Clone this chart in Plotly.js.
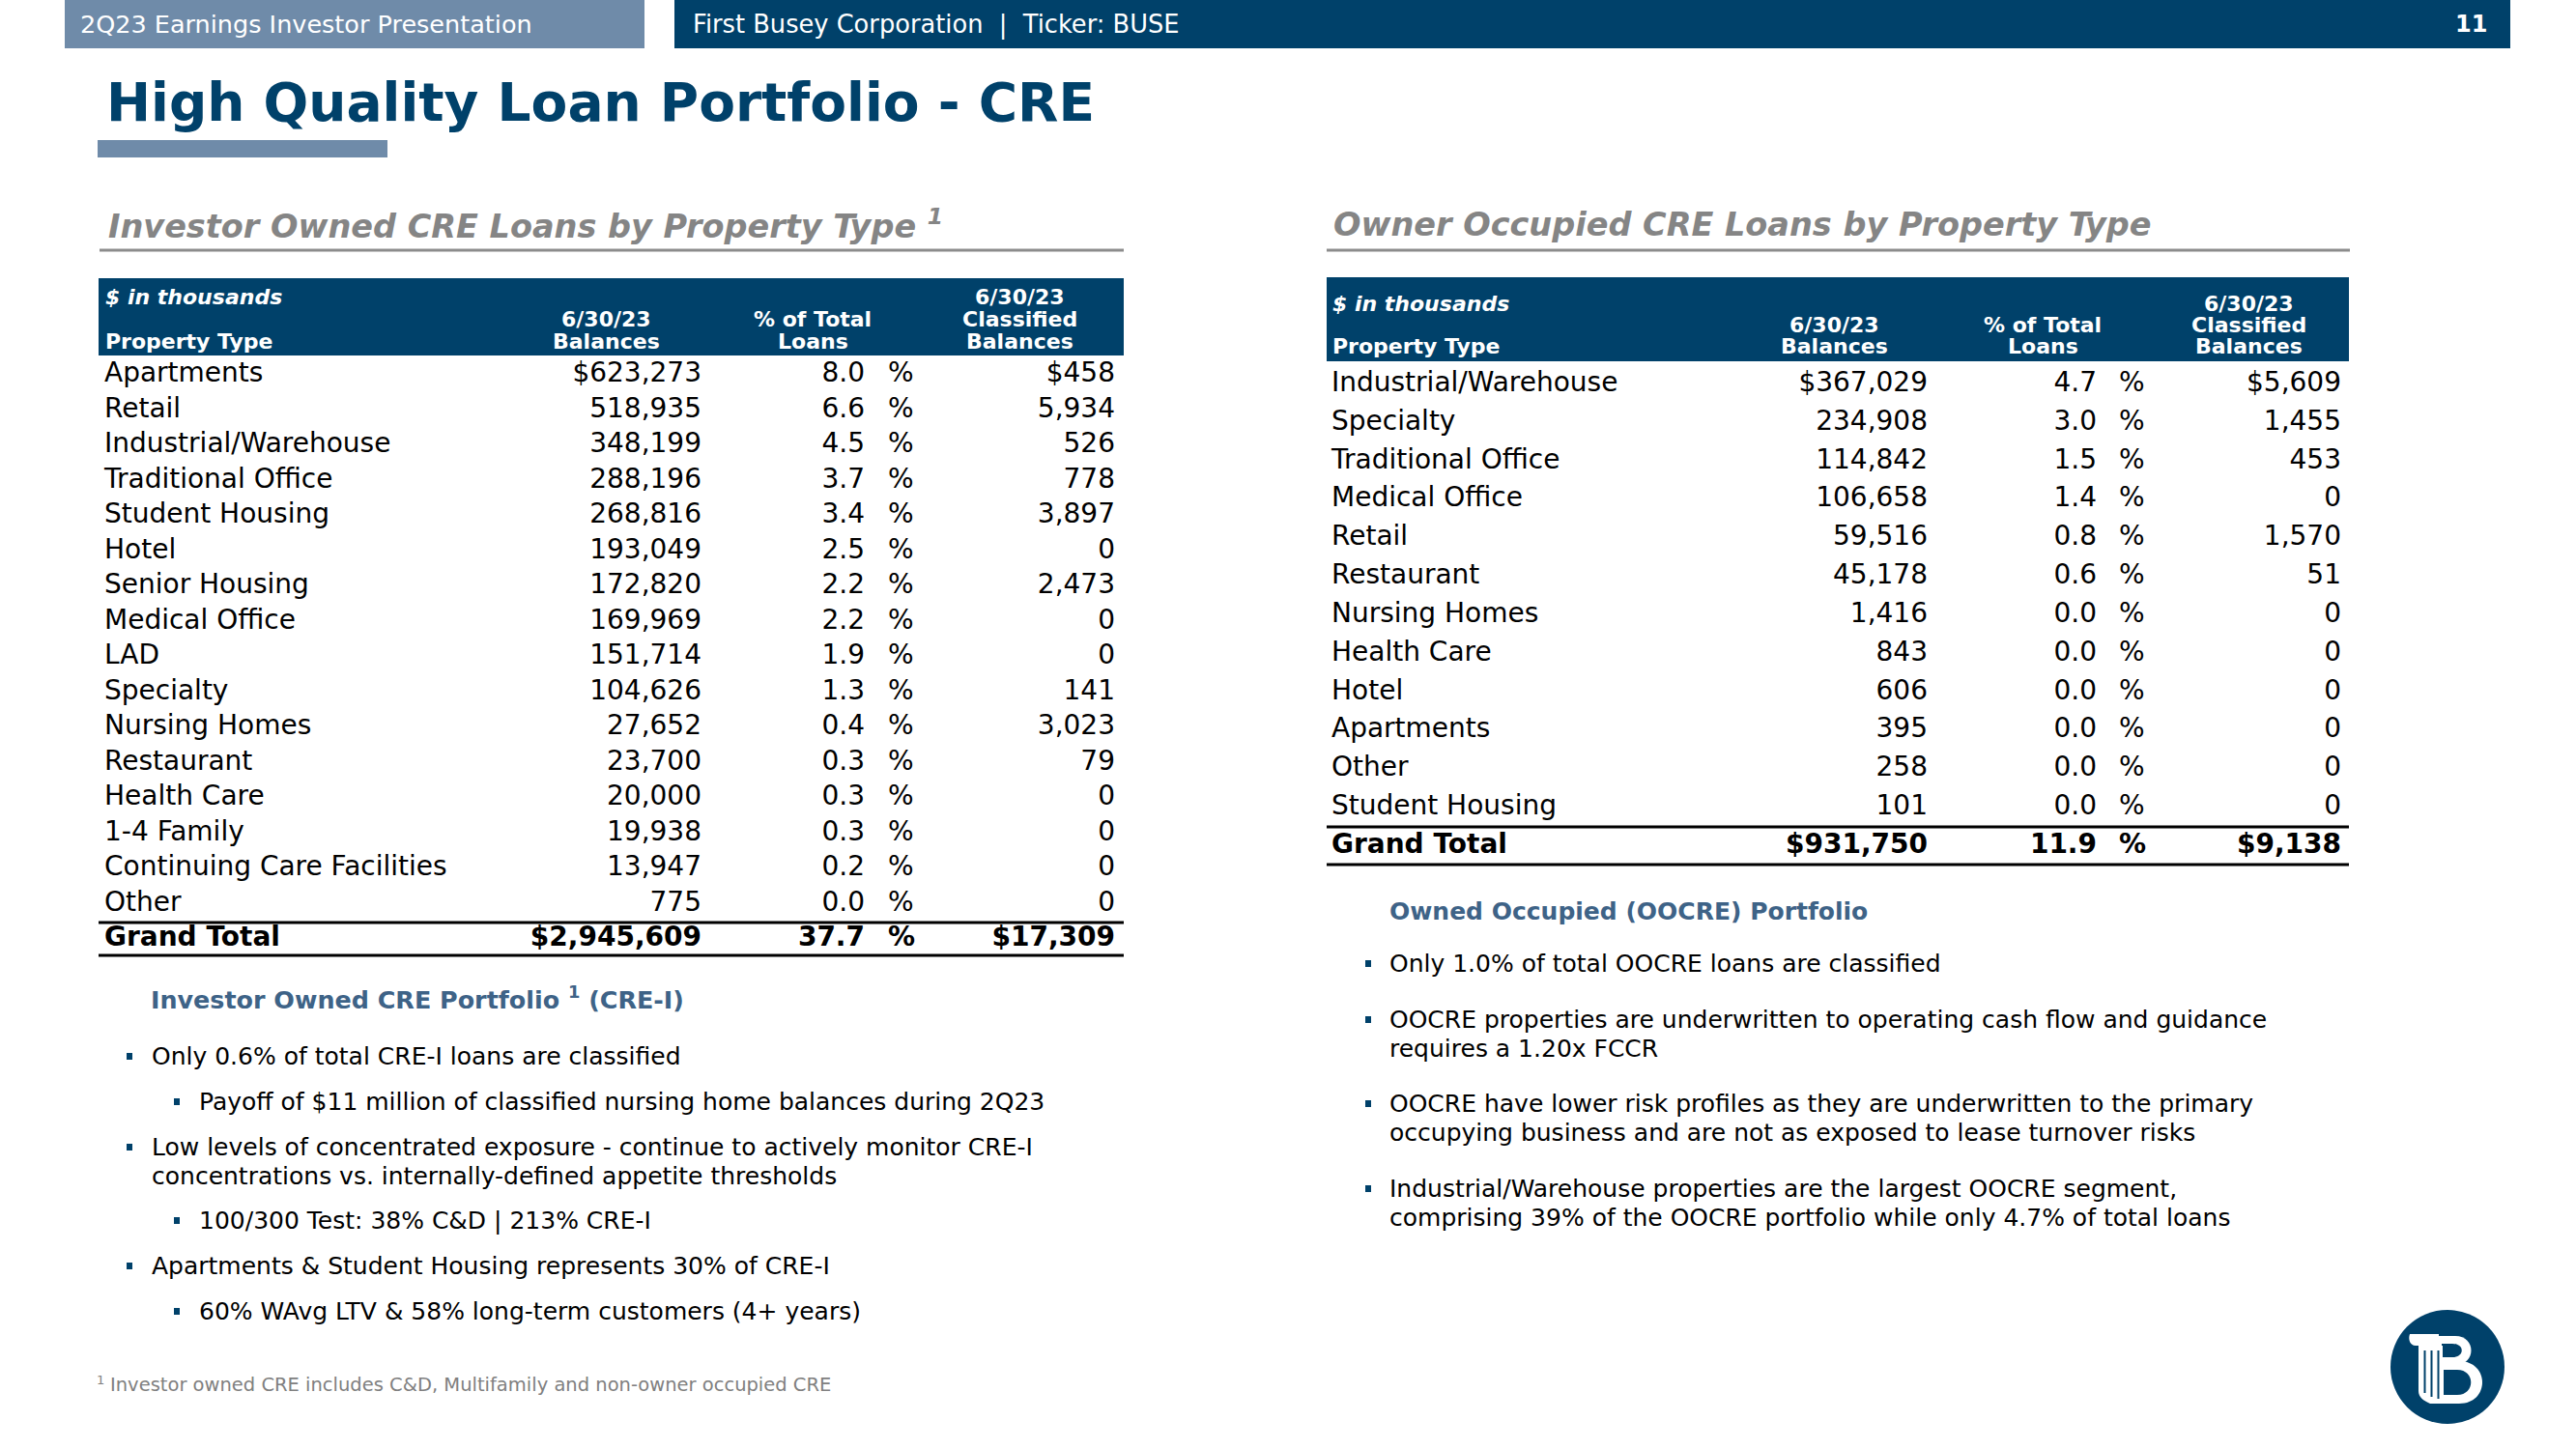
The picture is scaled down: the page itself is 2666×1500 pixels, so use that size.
<!DOCTYPE html>
<html><head><meta charset="utf-8">
<script src="https://cdn.plot.ly/plotly-3.0.1.min.js"></script>
<style>html,body{margin:0;padding:0;background:#fff;}#chart{width:2666px;height:1500px;}</style>
</head><body><div id="chart"></div>
<script>
// ---------- Data ----------
const invTypes = ['Apartments','Retail','Industrial/Warehouse','Traditional Office','Student Housing','Hotel','Senior Housing','Medical Office','LAD','Specialty','Nursing Homes','Restaurant','Health Care','1-4 Family','Continuing Care Facilities','Other'];
const invBalances = [623273,518935,348199,288196,268816,193049,172820,169969,151714,104626,27652,23700,20000,19938,13947,775];
const invPct = [8.0,6.6,4.5,3.7,3.4,2.5,2.2,2.2,1.9,1.3,0.4,0.3,0.3,0.3,0.2,0.0];
const invClassified = [458,5934,526,778,3897,0,2473,0,0,141,3023,79,0,0,0,0];
const invTotalBalance = 2945609, invTotalPct = 37.7, invTotalClassified = 17309;

const ooTypes = ['Industrial/Warehouse','Specialty','Traditional Office','Medical Office','Retail','Restaurant','Nursing Homes','Health Care','Hotel','Apartments','Other','Student Housing'];
const ooBalances = [367029,234908,114842,106658,59516,45178,1416,843,606,395,258,101];
const ooPct = [4.7,3.0,1.5,1.4,0.8,0.6,0.0,0.0,0.0,0.0,0.0,0.0];
const ooClassified = [5609,1455,453,0,1570,51,0,0,0,0,0,0];
const ooTotalBalance = 931750, ooTotalPct = 11.9, ooTotalClassified = 9138;

const totalLabel = 'Grand Total';
const unitLabel = '$ in thousands';
const typeHeader = 'Property Type';
const colHeaders = [['6/30/23','Balances'],['% of Total','Loans'],['6/30/23','Classified','Balances']];

const slideTag = '2Q23 Earnings Investor Presentation';
const companyTag = 'First Busey Corporation&nbsp;&nbsp;|&nbsp;&nbsp;Ticker: BUSE';
const pageNum = '11';
const slideTitle = 'High Quality Loan Portfolio - CRE';
const leftTitle = 'Investor Owned CRE Loans by Property Type <sup>1</sup>';
const rightTitle = 'Owner Occupied CRE Loans by Property Type';
const leftSub = 'Investor Owned CRE Portfolio <sup>1</sup> (CRE-I)';
const rightSub = 'Owned Occupied (OOCRE) Portfolio';
const leftBullets = [
  [1, ['Only 0.6% of total CRE-I loans are classified']],
  [2, ['Payoff of $11 million of classified nursing home balances during 2Q23']],
  [1, ['Low levels of concentrated exposure - continue to actively monitor CRE-I','concentrations vs. internally-defined appetite thresholds']],
  [2, ['100/300 Test: 38% C&amp;D | 213% CRE-I']],
  [1, ['Apartments &amp; Student Housing represents 30% of CRE-I']],
  [2, ['60% WAvg LTV &amp; 58% long-term customers (4+ years)']]
];
const rightBullets = [
  [1, ['Only 1.0% of total OOCRE loans are classified']],
  [1, ['OOCRE properties are underwritten to operating cash flow and guidance','requires a 1.20x FCCR']],
  [1, ['OOCRE have lower risk profiles as they are underwritten to the primary','occupying business and are not as exposed to lease turnover risks']],
  [1, ['Industrial/Warehouse properties are the largest OOCRE segment,','comprising 39% of the OOCRE portfolio while only 4.7% of total loans']]
];
const footnote = 'Investor owned CRE includes C&amp;D, Multifamily and non-owner occupied CRE';

// ---------- Style ----------
const FONT = 'DejaVu Sans, Verdana, sans-serif';
const NAVY = '#00416A';
const STEEL = '#6F8BA9';
const GRAY = '#858585';
const SUBBLUE = '#3E6387';
const W = 2666, H = 1500;
const BODY = 28, BULLET = 25, HEAD = 22;

const fmt = v => v.toLocaleString('en-US');

function tableTraces(types, bal, pct, cls, tBal, tPct, tCls, yaxis, cols) {
  const cats = types.concat([totalLabel]);
  const n = types.length;
  const b = (s, i) => i === n ? '<b>' + s + '</b>' : s;
  const base = {type:'scatter', mode:'text', xaxis:'x', yaxis:yaxis, y:cats, hoverinfo:'skip',
    cliponaxis:false, showlegend:false, textfont:{family:FONT, size:BODY, color:'#000'}};
  const at = xv => cats.map(() => xv);
  const balAll = bal.concat([tBal]);
  const pctAll = pct.concat([tPct]);
  const clsAll = cls.concat([tCls]);
  return [
    Object.assign({}, base, {x:at(cols.label), text:cats.map((c,i)=>b(c,i)), textposition:'middle right'}),
    Object.assign({}, base, {x:at(cols.bal), text:balAll.map((v,i)=>b((i===0||i===n?'$':'')+fmt(v),i)), textposition:'middle left'}),
    Object.assign({}, base, {x:at(cols.pct), text:pctAll.map((v,i)=>b(v.toFixed(1),i)), textposition:'middle left'}),
    Object.assign({}, base, {x:at(cols.pctSign), text:pctAll.map((v,i)=>b('%',i)), textposition:'middle right'}),
    Object.assign({}, base, {x:at(cols.cls), text:clsAll.map((v,i)=>b((i===0||i===n?'$':'')+fmt(v),i)), textposition:'middle left'})
  ];
}

const leftCols = {label:108, bal:726, pct:895, pctSign:919, cls:1154};
const rightCols = {label:1378, bal:1995, pct:2170, pctSign:2193, cls:2423};

const traces = []
  .concat(tableTraces(invTypes, invBalances, invPct, invClassified, invTotalBalance, invTotalPct, invTotalClassified, 'y2', leftCols))
  .concat(tableTraces(ooTypes, ooBalances, ooPct, ooClassified, ooTotalBalance, ooTotalPct, ooTotalClassified, 'y3', rightCols));

function catAxis(cats, firstPx, lastPx) {
  const n = cats.length - 1;
  const s = (lastPx - firstPx) / n;
  return {type:'category', categoryorder:'array', categoryarray:cats, range:[n + 0.5, -0.5],
    domain:[1 - (lastPx + s/2)/H, 1 - (firstPx - s/2)/H], anchor:'x', visible:false, fixedrange:true};
}

// ---------- Shapes ----------
const shapes = [];
const rect = (x0,y0,x1,y1,c) => shapes.push({type:'rect', xref:'x', yref:'y', x0, y0, x1, y1, fillcolor:c, line:{width:0}, layer:'below'});
const hline = (x0,x1,y,c,w) => shapes.push({type:'line', xref:'x', yref:'y', x0, x1, y0:y, y1:y, line:{color:c, width:w}, layer:'below'});
const path = (p,c) => shapes.push({type:'path', xref:'x', yref:'y', path:p, fillcolor:c, line:{width:0}, layer:'below'});

rect(67,0,667,50,STEEL);
rect(698,0,2598,50,NAVY);
rect(101,145,401,163,STEEL);
hline(103,1163,259,'#8C8C8C',3);
hline(1373,2432,259,'#8C8C8C',3);
rect(102,288,1163,368,NAVY);
rect(1373,287,2431,374,NAVY);
hline(102,1163,955,'#000',3);
hline(102,1163,989,'#000',3);
hline(1373,2431,856,'#000',3);
hline(1373,2431,895,'#000',3);

// ---------- Annotations ----------
const annotations = [];
function ann(x, y, text, size, color, xanchor, extra) {
  annotations.push(Object.assign({xref:'x', yref:'y', x, y, text, showarrow:false,
    xanchor:xanchor || 'left', yanchor:'middle', font:{family:FONT, size, color}}, extra || {}));
}
ann(81, 25, slideTag, 25.5, '#fff');
ann(715, 25, companyTag, 25.7, '#fff');
ann(2576, 25, '<b>' + pageNum + '</b>', 24, '#fff', 'right');
ann(108, 106, '<b>' + slideTitle + '</b>', 55, NAVY);
ann(110, 232, '<b><i>' + leftTitle + '</i></b>', 33.5, GRAY);
ann(1378, 232, '<b><i>' + rightTitle + '</i></b>', 33.5, GRAY);

function tableHeader(labelX, centers, ys) {
  ann(labelX, ys[0], '<b><i>' + unitLabel + '</i></b>', HEAD, '#fff');
  ann(labelX, ys[2], '<b>' + typeHeader + '</b>', HEAD, '#fff');
  colHeaders.forEach((lines, j) => {
    lines.forEach((t, k) => {
      const yy = ys[ys.length - lines.length + k];
      ann(centers[j], yy, '<b>' + t + '</b>', HEAD, '#fff', 'center');
    });
  });
}
tableHeader(107, [627, 841, 1055], [307, 330, 353]);
tableHeader(1377, [1898, 2114, 2327], [314, 336, 358]);

// Bullets
const leftBulletY = [1093, 1140, 1187, 1263, 1310, 1357];
const rightBulletY = [997, 1055, 1142, 1230];
ann(154, 1033, '<b>' + leftSub + '</b>', 25.4, SUBBLUE);
leftBullets.forEach(([lvl, lines], i) => {
  const bx = lvl === 1 ? 134 : 183;
  const y = leftBulletY[i];
  rect(bx - 3, y - 3, bx + 3, y + 4, NAVY);
  lines.forEach((t, k) => ann(bx + 21, y + k * 30, t, BULLET, '#000'));
});
ann(1436, 943, '<b>' + rightSub + '</b>', BULLET, SUBBLUE);
rightBullets.forEach(([lvl, lines], i) => {
  const y = rightBulletY[i];
  rect(1413, y - 3, 1419, y + 4, NAVY);
  lines.forEach((t, k) => ann(1436, y + k * 30, t, BULLET, '#000'));
});
ann(98, 1428, '1', 13, '#808080');
ann(112, 1433, footnote, 19.5, '#808080');

// Logo
shapes.push({type:'circle', xref:'x', yref:'y', x0:2474, x1:2592, y0:1356, y1:1474, fillcolor:NAVY, line:{width:0}, layer:'below'});
path('M 2520 1383 L 2541 1383 C 2563 1383 2563 1413 2541 1413 L 2520 1413 Z', '#fff');
path('M 2527 1391 L 2538 1391 C 2551 1391 2551 1405 2538 1405 L 2527 1405 Z', NAVY);
path('M 2520 1409 L 2545 1409 C 2577 1409 2577 1453 2545 1453 L 2520 1453 Z', '#fff');
path('M 2529 1418 L 2543 1418 C 2562 1418 2562 1444 2543 1444 L 2529 1444 Z', NAVY);
path('M 2494 1381 L 2524 1381 L 2524 1393 L 2500 1393 C 2494 1393 2492 1386 2494 1381 Z', '#fff');
path('M 2503 1393 L 2528 1393 L 2528 1453 L 2515 1453 C 2508 1450 2503 1446 2503 1440 Z', '#fff');
rect(2508.5, 1398, 2510.5, 1442, NAVY);
rect(2515.5, 1398, 2517.5, 1446, NAVY);
rect(2522.5, 1398, 2524.5, 1448, NAVY);

const layout = {
  width:W, height:H, margin:{l:0, r:0, t:0, b:0},
  paper_bgcolor:'#fff', plot_bgcolor:'rgba(0,0,0,0)',
  showlegend:false, hovermode:false,
  xaxis:{range:[0, W], domain:[0,1], visible:false, fixedrange:true, anchor:'y'},
  yaxis:{range:[H, 0], domain:[0,1], visible:false, fixedrange:true, anchor:'x'},
  yaxis2:catAxis(invTypes.concat([totalLabel]), 388, 972),
  yaxis3:catAxis(ooTypes.concat([totalLabel]), 398, 876),
  shapes, annotations
};
Plotly.newPlot('chart', traces, layout, {staticPlot:true, displayModeBar:false});
</script></body></html>
